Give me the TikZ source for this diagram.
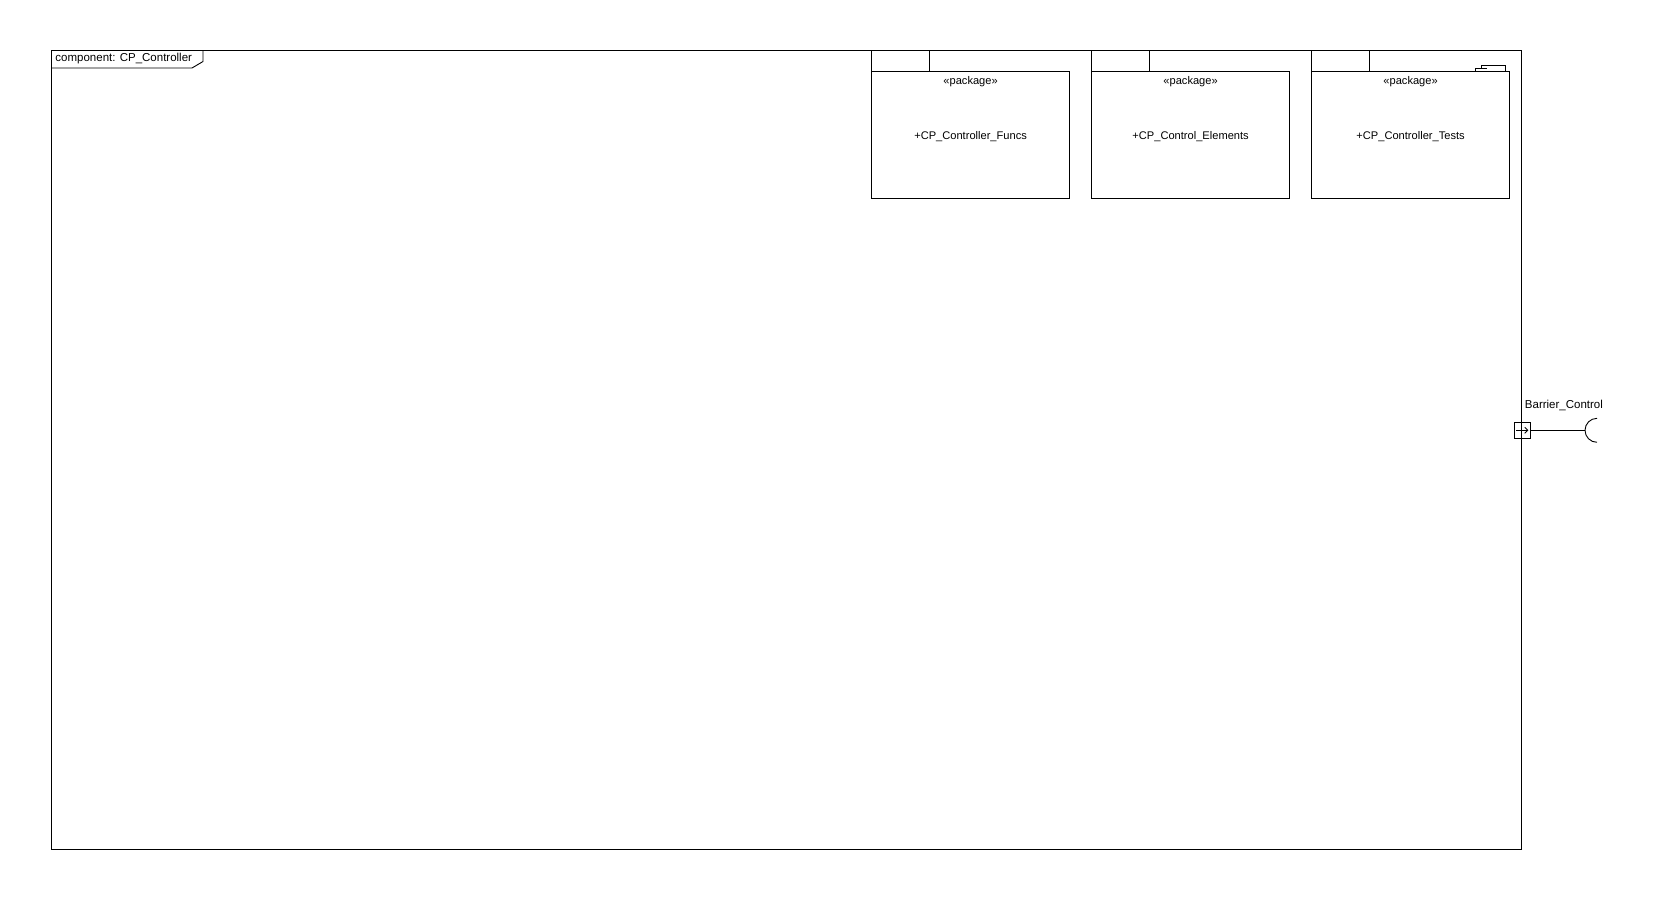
\documentclass[tikz,border=0pt]{standalone}
\usepackage{fontspec}
\setmainfont{Liberation Sans}
\usetikzlibrary{arrows.meta}
\begin{document}
\begin{tikzpicture}[x=1pt,y=-1pt,
  line width=0.9pt,
  umltext/.style={inner sep=0pt, font=\fontsize{11.1}{13}\selectfont},
  bigtext/.style={inner sep=0pt, font=\fontsize{11.5}{13}\selectfont},
  pkgbody/.style={draw, minimum width=198.3pt, minimum height=127pt, inner sep=0pt},
  portbox/.style={draw, minimum size=16pt, inner sep=0pt}]
\useasboundingbox (0,0) rectangle (1659,900);

% component frame
\draw (51,50) rectangle (1521.5,849.5);
\draw (51,68) -- (192,68) -- (203,61.5) -- (203,50);
\node[bigtext, anchor=base west] (framelabel) at (55,61) {component: CP\_Controller};

% packages: body plus tab
\foreach \px/\pname/\pid in {871/CP\_Controller\_Funcs/p1, 1091/CP\_Control\_Elements/p2, 1311/CP\_Controller\_Tests/p3}{
  \node[pkgbody, anchor=north west] (\pid) at (\px,70.7) {};
  \draw (\pid.north west) -- ++(0,-20.7) -- ++(58.3,0) -- ++(0,20.7);
  \node[umltext, anchor=base] (\pid-st) at ([yshift=-13.3pt]\pid.north) {«package»};
  \node[umltext, anchor=base] (\pid-nm) at ([yshift=-68.5pt]\pid.north) {+\pname};
}

% package icon in the upper right corner of the last package
\draw[line width=0.6pt] (1475.7,70.7) -- (1475.7,68.3) -- (1486.7,68.3);
\draw[line width=0.6pt] (1481.7,68.3) -- (1481.7,65.7) -- (1505.7,65.7) -- (1505.7,70.7);

% port with required interface
\node[portbox] (port) at (1522.3,430.3) {};
\draw[-{Straight Barb[length=3pt,width=6pt]}, line width=0.8pt] ([xshift=-6pt]port.center) -- ([xshift=6pt]port.center);
\coordinate (sock) at (1585,430.3);
\draw (port.east) -- (sock);
\draw ([yshift=12pt]sock) ++(12,0) arc[start angle=90, end angle=270, radius=12pt];
\node[bigtext, anchor=base west] (portlabel) at (1524.5,408.5) {Barrier\_Control};
\end{tikzpicture}
\end{document}
